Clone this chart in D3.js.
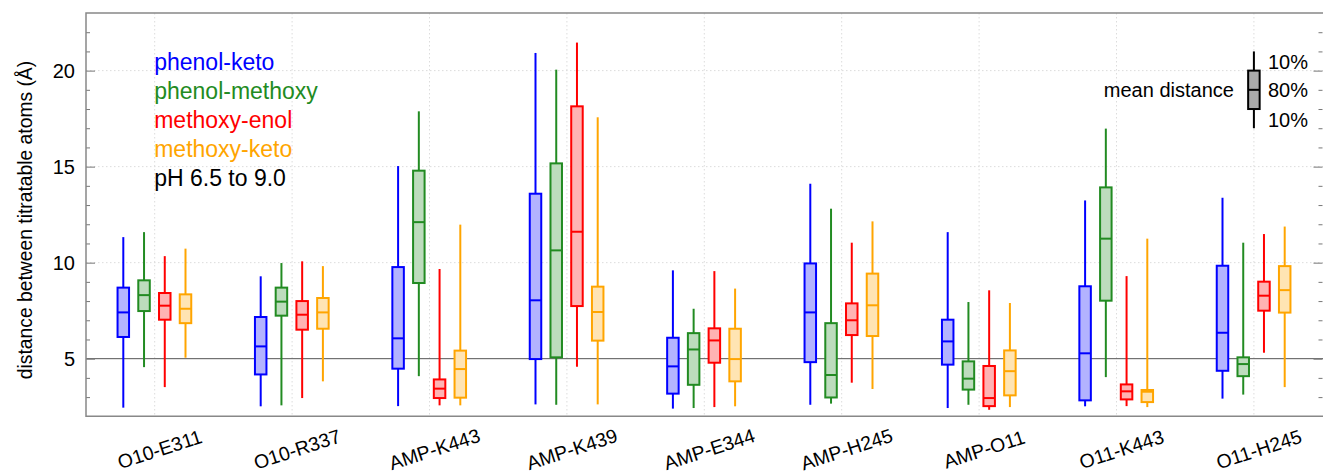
<!DOCTYPE html>
<html>
<head>
<meta charset="utf-8">
<script src="https://cdn.jsdelivr.net/npm/d3@7"></script>
<style>
  html, body { margin: 0; padding: 0; background: #fff; }
  svg { display: block; font-family: "Liberation Sans", Arial, Helvetica, sans-serif; }
</style>
</head>
<body>
<svg id="chart" width="1323" height="474"></svg>
<script>
// Atom pairs along the x axis
const categories = ["O10-E311", "O10-R337", "AMP-K443", "AMP-K439", "AMP-E344",
                    "AMP-H245", "AMP-O11", "O11-K443", "O11-H245"];

// Tautomer series, drawn left to right inside each pair
const seriesNames = ["phenol-keto", "phenol-methoxy", "methoxy-enol", "methoxy-keto"];
const seriesColors = ["#0000ff", "#228b22", "#ff0000", "#ffa500"];

// Per pair: [10th percentile, box low, mean, box high, 90th percentile] in Å
const phenolKeto = [
  [2.45, 6.13, 7.41, 8.70, 11.33],
  [2.52, 4.18, 5.64, 7.17, 9.29],
  [2.53, 4.48, 6.06, 9.77, 15.03],
  [2.62, 4.98, 8.04, 13.59, 20.92],
  [2.40, 3.18, 4.60, 6.09, 9.60],
  [2.60, 4.82, 7.41, 9.96, 14.11],
  [2.43, 4.69, 5.90, 7.03, 11.59],
  [2.52, 2.83, 5.28, 8.77, 13.24],
  [2.92, 4.37, 6.35, 9.84, 13.38]
];
const phenolMethoxy = [
  [4.56, 7.48, 8.31, 9.08, 11.59],
  [2.57, 7.24, 7.97, 8.70, 9.98],
  [4.09, 8.94, 12.11, 14.79, 17.88],
  [2.60, 5.07, 10.64, 15.17, 20.05],
  [2.43, 3.64, 5.48, 6.33, 7.60],
  [2.66, 2.98, 4.15, 6.85, 12.81],
  [2.60, 3.39, 3.96, 4.86, 7.95],
  [4.04, 8.02, 11.25, 13.92, 16.98],
  [3.13, 4.09, 4.72, 5.07, 11.04]
];
const methoxyEnol = [
  [3.52, 7.03, 7.76, 8.42, 10.34],
  [2.95, 6.51, 7.29, 8.00, 10.07],
  [2.57, 2.95, 3.44, 3.92, 9.67],
  [4.58, 7.74, 11.61, 18.14, 21.46],
  [2.48, 4.79, 5.95, 6.58, 9.56],
  [3.75, 6.23, 7.00, 7.88, 11.04],
  [2.34, 2.53, 2.95, 4.62, 8.56],
  [2.53, 2.88, 3.30, 3.66, 9.30],
  [5.31, 7.50, 8.28, 9.01, 11.49]
];
const methoxyKeto = [
  [5.05, 6.85, 7.60, 8.35, 10.73],
  [3.82, 6.56, 7.41, 8.16, 9.82],
  [2.57, 2.97, 4.46, 5.42, 11.98],
  [2.62, 5.94, 7.43, 8.75, 17.57],
  [2.52, 3.82, 4.98, 6.56, 8.65],
  [3.42, 6.18, 7.78, 9.43, 12.15],
  [2.48, 3.09, 4.35, 5.43, 7.90],
  [2.48, 2.74, 3.28, 3.37, 11.25],
  [3.52, 7.40, 8.57, 9.82, 11.88]
];
const seriesValues = [phenolKeto, phenolMethoxy, methoxyEnol, methoxyKeto];

// Key glyph explaining the box: [10th pct, box low, mean, box high, 90th pct]
const keyBox = [17, 18, 19, 20, 21];
const keyLabels = [["10%", 20.45], ["80%", 19], ["10%", 17.45]];

const yMajorTicks = [5, 10, 15, 20];
const yMinorTicks = d3.range(3, 23);
const legendNote = "pH 6.5 to 9.0";

// ---- layout ----
const svg = d3.select("#chart");
const plotLeft = 86, plotRight = 1322.6, plotTop = 13, plotBottom = 416.3;
const edgeX = 1323;
const FONT = "'Liberation Sans', Arial, Helvetica, sans-serif";

const x = d3.scaleBand().domain(categories).range([plotLeft, plotRight]).padding(0);
const xs = d3.scalePoint().domain(seriesNames).range([-31.4, 30.8]);
const y = d3.scaleLinear().domain([2, 23]).range([plotBottom, plotTop]);
const cx = c => x(c) + x.bandwidth() / 2;

const boxW = 11.5;

// grid
const grid = svg.append("g").attr("stroke", "#dcdcdc").attr("stroke-width", 1)
  .attr("stroke-dasharray", "1.5,2.5");
grid.selectAll("line.h").data(yMajorTicks.filter(v => v !== 5)).join("line")
  .attr("x1", plotLeft).attr("x2", edgeX).attr("y1", d => y(d)).attr("y2", d => y(d));
grid.selectAll("line.v").data(categories).join("line")
  .attr("x1", d => cx(d)).attr("x2", d => cx(d)).attr("y1", plotTop).attr("y2", plotBottom);

// reference line at 5 Å
svg.append("line").attr("x1", plotLeft).attr("x2", edgeX).attr("y1", y(5)).attr("y2", y(5))
  .attr("stroke", "#555").attr("stroke-width", 1);

// axes with inward ticks on both sides
function sideAxis(axisFn, xpos, inward) {
  const g = svg.append("g").attr("transform", `translate(${xpos},0)`);
  g.call(axisFn(y).tickValues(yMinorTicks).tickSize(-4).tickFormat(""));
  g.selectAll(".tick line").filter(d => yMajorTicks.includes(d)).attr("x2", 9 * inward);
  g.select(".domain").remove();
  g.selectAll(".tick line").attr("stroke", "#777").attr("stroke-width", 1);
  return g;
}
sideAxis(d3.axisLeft, plotLeft, 1);
sideAxis(d3.axisRight, edgeX - 0.5, -1);

const yLabels = svg.append("g").attr("transform", `translate(${plotLeft},0)`)
  .call(d3.axisLeft(y).tickValues(yMajorTicks).tickSize(0).tickPadding(11));
yLabels.select(".domain").remove();
yLabels.selectAll("text").attr("font-size", 20).attr("fill", "#000")
  .attr("font-family", FONT);

// frame
svg.append("path")
  .attr("d", `M${edgeX},${plotTop}H${plotLeft}V${plotBottom}H${edgeX}`)
  .attr("fill", "none").attr("stroke", "#888").attr("stroke-width", 1.5);

// x labels
const xAxis = svg.append("g").attr("transform", `translate(0,${plotBottom})`)
  .call(d3.axisBottom(x).tickSize(0).tickFormat(d => d));
xAxis.select(".domain").remove();
xAxis.selectAll(".tick text")
  .attr("font-size", 19.5).attr("fill", "#000")
  .attr("font-family", FONT)
  .attr("text-anchor", "middle")
  .attr("dy", "0.35em")
  .attr("y", 0)
  .attr("transform", "translate(5,33) rotate(-18)");

// y title
svg.append("text")
  .attr("transform", `translate(31.5,220) rotate(-90)`)
  .attr("text-anchor", "middle").attr("font-size", 19.3).attr("fill", "#000")
  .text("distance between titratable atoms (Å)");

// mix a colour with white to get the light box fill
const tint = c => d3.interpolateRgb("#ffffff", c)(0.3);

function drawBox(g, xc, v, stroke, fill) {
  const [lo, q1, m, q3, hi] = v;
  g.append("line").attr("x1", xc).attr("x2", xc).attr("y1", y(lo)).attr("y2", y(q1))
    .attr("stroke", stroke).attr("stroke-width", 2);
  g.append("line").attr("x1", xc).attr("x2", xc).attr("y1", y(q3)).attr("y2", y(hi))
    .attr("stroke", stroke).attr("stroke-width", 2);
  g.append("rect").attr("x", xc - boxW / 2).attr("width", boxW)
    .attr("y", y(q3)).attr("height", y(q1) - y(q3))
    .attr("fill", fill).attr("stroke", stroke).attr("stroke-width", 2);
  g.append("line").attr("x1", xc - boxW / 2).attr("x2", xc + boxW / 2)
    .attr("y1", y(m)).attr("y2", y(m))
    .attr("stroke", stroke).attr("stroke-width", 2);
}

// boxes
seriesNames.forEach((s, si) => {
  const g = svg.append("g");
  categories.forEach((c, ci) => {
    drawBox(g, cx(c) + xs(s), seriesValues[si][ci], seriesColors[si], tint(seriesColors[si]));
  });
});

// colour legend
const legend = svg.append("g").attr("font-size", 23);
const legendRows = seriesNames.map((s, i) => ({ t: s, c: seriesColors[i] }))
  .concat([{ t: legendNote, c: "#000" }]);
legend.selectAll("text").data(legendRows).join("text")
  .attr("x", cx(categories[0]) - 0.5)
  .attr("y", (d, i) => 69.5 + i * 29)
  .attr("fill", d => d.c)
  .text(d => d.t);

// key glyph
const keyX = cx(categories[categories.length - 1]);
const key = svg.append("g");
drawBox(key, keyX, keyBox, "#000", "#aaaaaa");
key.selectAll("text.p").data(keyLabels).join("text")
  .attr("x", keyX + 14).attr("y", d => y(d[1])).attr("dy", "0.35em")
  .attr("font-size", 20).attr("fill", "#000").text(d => d[0]);
key.append("text").attr("x", keyX - 20).attr("y", y(keyBox[2])).attr("dy", "0.35em")
  .attr("text-anchor", "end").attr("font-size", 20).attr("fill", "#000")
  .text("mean distance");
</script>
</body>
</html>
